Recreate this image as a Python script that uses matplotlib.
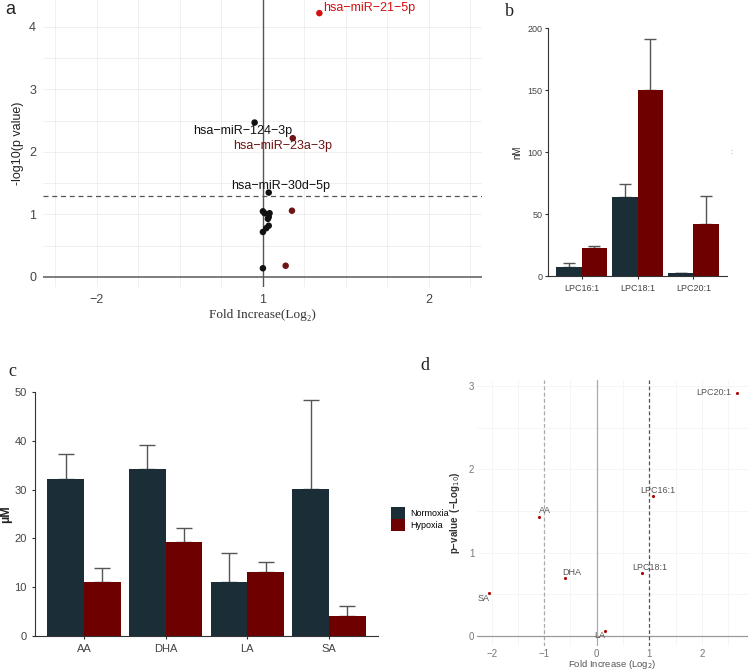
import matplotlib
matplotlib.use("Agg")
import matplotlib.pyplot as plt
import numpy as np

plt.rcParams['font.family'] = ['Liberation Sans', 'DejaVu Sans']

# panel a: miRNA volcano (log2 fold, -log10 p)
mir_fc = [0.34, -0.05, 0.18, 0.035, 0.175, 0.137, 0.0, 0.01, 0.04, 0.035, 0.03, 0.035, 0.02, 0.0, 0.0]
mir_p = [4.22, 2.47, 2.22, 1.35, 1.06, 0.18, 1.05, 1.02, 1.02, 0.96, 0.93, 0.82, 0.78, 0.72, 0.14]
mir_col = ['#d40f0f', '#111111', '#6e1414', '#111111', '#6e1414', '#6e1414',
           '#111111', '#111111', '#111111', '#111111', '#111111', '#111111',
           '#111111', '#111111', '#111111']
mir_labels = {0: 'hsa\u2212miR\u221221\u22125p', 1: 'hsa\u2212miR\u2212124\u22123p',
              2: 'hsa\u2212miR\u221223a\u22123p', 3: 'hsa\u2212miR\u221230d\u22125p'}
mir_label_pos = {0: (0.36, 4.30, 'left'), 1: (-0.12, 2.34, 'center'),
                 2: (0.117, 2.09, 'center'), 3: (0.108, 1.46, 'center')}

# panel b: LPC (nM)
lpc_names = ['LPC16:1', 'LPC18:1', 'LPC20:1']
lpc_norm = [7.5, 64, 2.2]
lpc_norm_err = [3.2, 10, 0.6]
lpc_hyp = [22.8, 150, 41.7]
lpc_hyp_err = [1.0, 41, 23]

# panel c: fatty acids (uM)
fa_names = ['AA', 'DHA', 'LA', 'SA']
fa_norm = [32.1, 34.2, 11.1, 30.2]
fa_norm_err = [5.1, 4.9, 6.0, 18.1]
fa_hyp = [11.0, 19.2, 13.2, 4.1]
fa_hyp_err = [3.0, 2.9, 2.0, 2.0]

# panel d: lipid volcano
lip_names = ['LPC20:1', 'LPC16:1', 'AA', 'LPC18:1', 'DHA', 'SA', 'LA']
lip_fc = [2.67, 1.065, -1.09, 0.855, -0.6, -2.05, 0.165]
lip_p = [2.92, 1.68, 1.43, 0.76, 0.70, 0.51, 0.06]
lip_label_pos = [(2.22, 2.92), (1.16, 1.74), (-0.98, 1.50), (1.0, 0.82),
                 (-0.48, 0.76), (-2.15, 0.45), (0.05, 0.0)]

norm_col = '#1b2e38'
hyp_col = '#6e0000'

W, H = 750, 672
fig = plt.figure(figsize=(7.5, 6.72), dpi=100)


def px_axes(x0, y0, x1, y1):
    return fig.add_axes([x0 / W, 1 - y1 / H, (x1 - x0) / W, (y1 - y0) / H])


# ---------- a ----------
ax = px_axes(43, 0, 482, 287)
ax.set_xlim(-1.325, 1.32)
ax.set_ylim(-0.16, 4.43)
for gx in np.arange(-1.25, 1.3, 0.25):
    ax.axvline(gx, color='#ebeef0', lw=0.6, zorder=0)
for gy in np.arange(0.5, 4.5, 0.5):
    ax.axhline(gy, color='#ebeef0', lw=0.6, zorder=0)
ax.axhline(0, color='#666666', lw=1.2, zorder=1)
ax.axvline(0, color='#555555', lw=1.0, zorder=1)
ax.axhline(1.301, color='#555555', lw=0.9, ls=(0, (4, 3)), zorder=1)
ax.scatter(mir_fc, mir_p, c=mir_col, s=22, zorder=3, linewidths=0)
for i, (tx, ty, ha) in mir_label_pos.items():
    ax.text(tx, ty, mir_labels[i], color=mir_col[i], fontsize=9, ha=ha, va='center', zorder=4)
ax.set_xticks([-1, 0, 1])
ax.set_xticklabels(['\u22122', '1', '2'])
ax.set_yticks([0, 1, 2, 3, 4])
ax.tick_params(length=0, labelsize=9, labelcolor='#444444', pad=5)
for s in ax.spines.values():
    s.set_visible(False)
ax.set_ylabel('-log10(p value)', fontsize=9, color='#222222')
ax.yaxis.set_label_coords(-0.043, 0.5)
ax.set_xlabel('Fold Increase(Log\u2082)', fontsize=9.5, color='#333333',
              family=['Liberation Serif', 'DejaVu Serif'], labelpad=2)
fig.text(5 / W, 1 - 9 / H, 'a', fontsize=13, va='center', ha='left', color='#222222')


def bar_panel(ax, names, norm, norm_err, hyp, hyp_err, lsize, cap):
    x = np.arange(1, len(names) + 1)
    w = 0.45
    b1 = ax.bar(x - w / 2, norm, w, color=norm_col, zorder=2)
    b2 = ax.bar(x + w / 2, hyp, w, color=hyp_col, zorder=2)
    ax.errorbar(x - w / 2, norm, yerr=[np.zeros(len(x)), norm_err], fmt='none',
                ecolor='#555555', elinewidth=1, capsize=cap, capthick=1, zorder=1)
    ax.errorbar(x + w / 2, hyp, yerr=[np.zeros(len(x)), hyp_err], fmt='none',
                ecolor='#555555', elinewidth=1, capsize=cap, capthick=1, zorder=1)
    ax.set_xlim(0.4, len(names) + 0.6)
    ax.set_xticks(x)
    ax.set_xticklabels(names)
    ax.spines['top'].set_visible(False)
    ax.spines['right'].set_visible(False)
    ax.spines['left'].set_color('#333333')
    ax.spines['bottom'].set_color('#333333')
    ax.tick_params(labelsize=lsize, labelcolor='#444444', color='#333333', length=2.5)
    return b1, b2


# ---------- b ----------
ax = px_axes(548, 28, 727, 276)
bar_panel(ax, lpc_names, lpc_norm, lpc_norm_err, lpc_hyp, lpc_hyp_err, 6.5, 4)
ax.tick_params(axis='y', pad=1.5)
ax.set_ylim(0, 200)
ax.set_yticks([0, 50, 100, 150, 200])
ax.set_ylabel('nM', fontsize=7, color='#222222')
ax.yaxis.set_label_coords(-0.145, 0.5)
fig.text(505 / W, 1 - 12 / H, 'b', fontsize=13, va='center', ha='left',
         family=['Liberation Serif', 'DejaVu Serif'], color='#222222')
fig.text(731 / W, 1 - 152 / H, ':', fontsize=6, va='center', ha='center', color='#999999')

# ---------- c ----------
ax = px_axes(35, 392, 378, 636)
b1, b2 = bar_panel(ax, fa_names, fa_norm, fa_norm_err, fa_hyp, fa_hyp_err, 8, 6)
ax.set_ylim(0, 50)
ax.set_yticks([0, 10, 20, 30, 40, 50])
ax.set_ylabel('\u00b5M', fontsize=9, fontweight='bold', color='#222222')
ax.yaxis.set_label_coords(-0.068, 0.5)
fig.text(8 / W, 1 - 372 / H, 'c', fontsize=13, va='center', ha='left',
         family=['Liberation Serif', 'DejaVu Serif'], color='#222222')

fig.legend([b1, b2], ['Normoxia', 'Hypoxia'], loc='center left',
           bbox_to_anchor=(391 / W, 1 - 519 / H), frameon=False, fontsize=6.5,
           handlelength=1.6, handleheight=1.6, labelspacing=0, handletextpad=0.5,
           borderpad=0, borderaxespad=0)

# ---------- d ----------
ax = px_axes(477, 380, 748, 646)
ax.set_xlim(-2.28, 2.88)
ax.set_ylim(-0.12, 3.07)
for gx in np.arange(-2, 3, 0.5):
    ax.axvline(gx, color='#f4f4f4', lw=0.6, zorder=0)
for gy in np.arange(0.5, 3.1, 0.5):
    ax.axhline(gy, color='#f4f4f4', lw=0.6, zorder=0)
ax.axhline(0, color='#999999', lw=0.9, zorder=1)
ax.axvline(0, color='#aaaaaa', lw=0.9, zorder=1)
ax.axvline(-1, color='#aaaaaa', lw=0.9, ls=(0, (3, 2)), zorder=1)
ax.axvline(1, color='#555555', lw=0.9, ls=(0, (3, 2)), zorder=1)
ax.scatter(lip_fc, lip_p, c='#b00000', s=5, zorder=3, linewidths=0)
for name, (tx, ty) in zip(lip_names, lip_label_pos):
    ax.text(tx, ty, name, fontsize=6.5, color='#555555', ha='center', va='center', zorder=4)
ax.set_xticks([-2, -1, 0, 1, 2])
ax.set_xticklabels(['\u22122', '\u22121', '0', '1', '2'])
ax.set_yticks([0, 1, 2, 3])
ax.tick_params(length=0, labelsize=7, labelcolor='#777777', pad=2)
for s in ax.spines.values():
    s.set_visible(False)
ax.set_ylabel('p\u2212value  (\u2212Log$_{10}$)', fontsize=7, fontweight='bold',
              color='#333333')
ax.yaxis.set_label_coords(-0.055, 0.5)
ax.set_xlabel('Fold Increase (Log$_{2}$)', fontsize=6.8, color='#555555')
ax.xaxis.set_label_coords(0.5, -0.045)
fig.text(420 / W, 1 - 365 / H, 'd', fontsize=13, va='center', ha='left',
         family=['Liberation Serif', 'DejaVu Serif'], color='#222222')

fig.savefig('out.png', dpi=100)
